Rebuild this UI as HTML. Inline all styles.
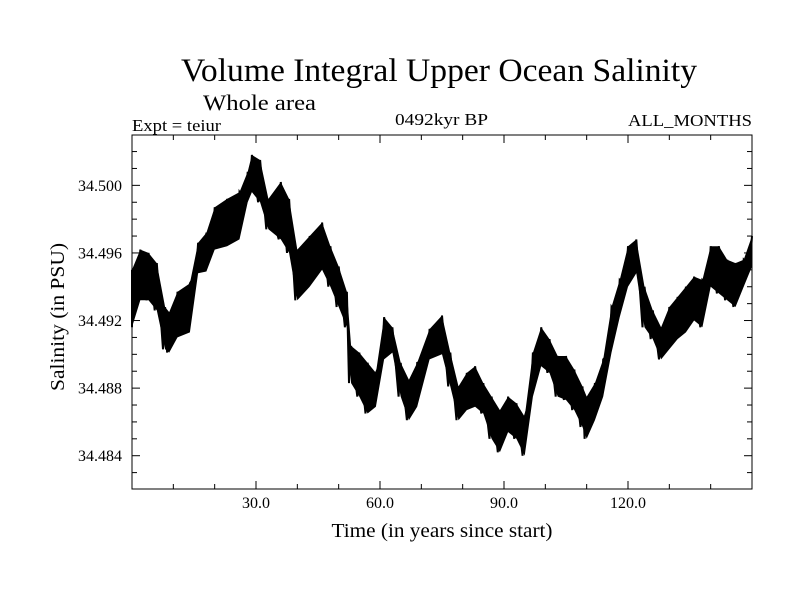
<!DOCTYPE html>
<html><head><meta charset="utf-8"><style>
html,body{margin:0;padding:0;background:#fff;}
svg{display:block;font-family:"Liberation Serif",serif;}
</style></head><body>
<svg id="chart" width="800" height="600" viewBox="0 0 800 600">
<rect x="0" y="0" width="800" height="600" fill="#fff"/>
<text x="181" y="81" font-size="33" textLength="516" lengthAdjust="spacingAndGlyphs">Volume Integral Upper Ocean Salinity</text>
<text x="203" y="110" font-size="22" textLength="113" lengthAdjust="spacingAndGlyphs">Whole area</text>
<text x="132" y="131" font-size="17" textLength="89" lengthAdjust="spacingAndGlyphs">Expt = teiur</text>
<text x="395" y="125" font-size="17" textLength="93" lengthAdjust="spacingAndGlyphs">0492kyr BP</text>
<text x="628" y="126" font-size="17" textLength="124" lengthAdjust="spacingAndGlyphs">ALL_MONTHS</text>
<text x="442" y="537" font-size="20" text-anchor="middle" textLength="221" lengthAdjust="spacingAndGlyphs">Time (in years since start)</text>
<text x="0" y="0" font-size="20" text-anchor="middle" transform="translate(64,317) rotate(-90)" textLength="148" lengthAdjust="spacingAndGlyphs">Salinity (in PSU)</text>
<g id="marks"></g>
<g id="axes"></g>
</svg>
<script>
const years = [0,2,4,6,8,9,11,14,16,18,20,23,26,28,29,31,33,36,38,40,43,46,48,50,52,53,55,57,59,61,63,65,67,69,72,75,77,79,81,83,85,87,89,91,93,95,97,99,101,103,105,107,109,110,112,114,116,118,120,122,124,126,128,130,132,134,136,138,140,142,144,146,148,150];
const highs = [34.4950,34.4962,34.4960,34.4954,34.4928,34.4925,34.4937,34.4942,34.4966,34.4972,34.4987,34.4992,34.4996,34.5008,34.5018,34.5015,34.4992,34.5002,34.4992,34.4962,34.4970,34.4978,34.4964,34.4952,34.4937,34.4905,34.4901,34.4895,34.4889,34.4922,34.4916,34.4895,34.4885,34.4895,34.4915,34.4923,34.4901,34.4881,34.4889,34.4893,34.4883,34.4875,34.4867,34.4875,34.4871,34.4863,34.4901,34.4916,34.4909,34.4899,34.4899,34.4891,34.4881,34.4875,34.4883,34.4897,34.4928,34.4944,34.4964,34.4968,34.4940,34.4926,34.4916,34.4928,34.4934,34.4940,34.4946,34.4944,34.4964,34.4964,34.4956,34.4954,34.4956,34.4970];
const lows = [34.4916,34.4932,34.4932,34.4926,34.4903,34.4901,34.4910,34.4913,34.4948,34.4949,34.4962,34.4964,34.4968,34.4990,34.4996,34.4990,34.4974,34.4968,34.4960,34.4932,34.4940,34.4950,34.4940,34.4928,34.4916,34.4883,34.4875,34.4865,34.4869,34.4897,34.4901,34.4875,34.4861,34.4869,34.4897,34.4900,34.4881,34.4861,34.4867,34.4869,34.4865,34.4850,34.4842,34.4854,34.4850,34.4840,34.4875,34.4893,34.4889,34.4875,34.4873,34.4867,34.4857,34.4850,34.4861,34.4875,34.4901,34.4922,34.4940,34.4948,34.4916,34.4909,34.4897,34.4903,34.4909,34.4913,34.4920,34.4916,34.4940,34.4936,34.4932,34.4928,34.4940,34.4952];
const xTicks = [30,60,90,120];
const xTickLabels = ["30.0","60.0","90.0","120.0"];
const yTicks = [34.500,34.496,34.492,34.488,34.484];
const yTickLabels = ["34.500","34.496","34.492","34.488","34.484"];

const L=132,R=752,T=135,B=489;
const xMin=0,xMax=150,yMin=34.48203,yMax=34.50298;
function sx(v){return L+(v-xMin)/(xMax-xMin)*(R-L);}
function sy(v){return B-(v-yMin)/(yMax-yMin)*(B-T);}
const NS="http://www.w3.org/2000/svg";
function mk(tag,attrs,parent){const e=document.createElementNS(NS,tag);for(const k in attrs)e.setAttribute(k,attrs[k]);parent.appendChild(e);return e;}
const marks=document.getElementById('marks'),axes=document.getElementById('axes');

const topPts=years.map((y,i)=>sx(y).toFixed(1)+','+sy(highs[i]).toFixed(1));
const botPts=years.map((y,i)=>sx(y).toFixed(1)+','+sy(lows[i]).toFixed(1)).reverse();
const band=mk('polygon',{points:topPts.concat(botPts).join(' '),fill:'#000'},marks);


const pts=[];
years.forEach((y,i)=>{pts.push(sx(y-0.5<0?0:y-0.5).toFixed(1)+','+sy(lows[i]).toFixed(1));pts.push(sx(y).toFixed(1)+','+sy(highs[i]).toFixed(1));});
const line=mk('polyline',{points:pts.join(' '),fill:'none',stroke:'#000','stroke-width':2},marks);



const frame=mk('rect',{x:L,y:T,width:R-L,height:B-T,fill:'none',stroke:'#000','stroke-width':1},axes);


for(let v=10;v<150;v+=10){
  const major=(v%30===0);const len=major?8:5;const x=sx(v);
  const t1=mk('line',{x1:x,x2:x,y1:B,y2:B-len,stroke:'#000'},axes);
  
  
  const t2=mk('line',{x1:x,x2:x,y1:T,y2:T+len,stroke:'#000'},axes);
  
  
}
xTicks.forEach((v,i)=>{
  const t=mk('text',{x:sx(v),y:508,'font-size':16,'text-anchor':'middle'},axes);t.textContent=xTickLabels[i];
  
  
});
for(let k=-1;k<=18;k++){
  const v=34.484+k*0.001;if(v<yMin||v>yMax)continue;
  const major=(Math.round((v-34.484)*1000)%4===0);const len=major?8:5;const y=sy(v);
  const t1=mk('line',{x1:L,x2:L+len,y1:y,y2:y,stroke:'#000'},axes);
  
  
  const t2=mk('line',{x1:R,x2:R-len,y1:y,y2:y,stroke:'#000'},axes);
  
  
}
yTicks.forEach((v,i)=>{
  const t=mk('text',{x:122,y:sy(v)+5.5,'font-size':16,'text-anchor':'end'},axes);t.textContent=yTickLabels[i];
  
  
});
</script>
</body></html>
